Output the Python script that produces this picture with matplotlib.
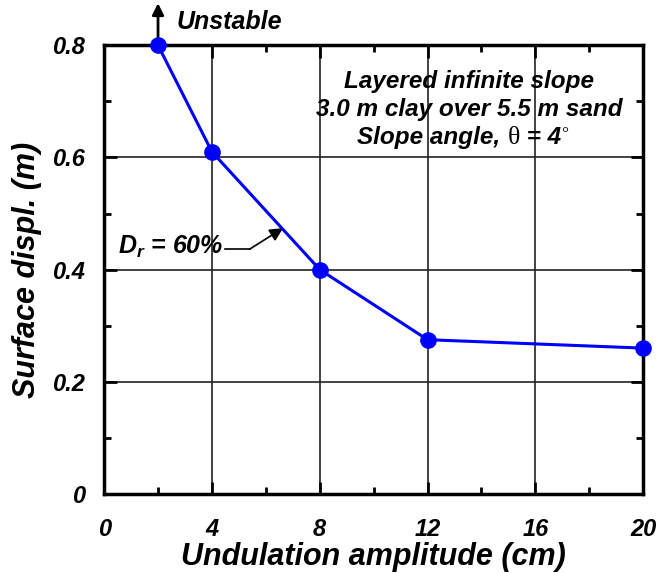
import numpy as np
import matplotlib.pyplot as plt
from matplotlib.ticker import MultipleLocator

plt.rcParams['font.family'] = ['Liberation Sans', 'DejaVu Sans']
plt.rcParams['font.weight'] = 'bold'
plt.rcParams['font.style'] = 'italic'
plt.rcParams['axes.labelweight'] = 'bold'
plt.rcParams['mathtext.fontset'] = 'custom'
plt.rcParams['mathtext.it'] = 'Liberation Sans:italic:bold'
plt.rcParams['mathtext.rm'] = 'Liberation Sans:italic:bold'
plt.rcParams['mathtext.bf'] = 'Liberation Sans:italic:bold'

# data
amplitude = [2, 4, 8, 12, 20]
displ = [0.80, 0.61, 0.40, 0.275, 0.26]
x_ticks = [0, 4, 8, 12, 16, 20]
y_ticks = [0, 0.2, 0.4, 0.6, 0.8]
y_labels = ['0', '0.2', '0.4', '0.6', '0.8']

fig = plt.figure(figsize=(6.59, 5.73), dpi=100)
ax = fig.add_axes([0.158, 0.138, 0.818, 0.783])

ax.plot(amplitude, displ, color='blue', lw=2.2, marker='o', ms=11,
        zorder=5, clip_on=False)

ax.set_xlim(0, 20)
ax.set_ylim(0, 0.8)
ax.set_xticks(x_ticks)
ax.set_xticklabels([str(t) for t in x_ticks])
ax.set_yticks(y_ticks)
ax.set_yticklabels(y_labels)
ax.xaxis.set_minor_locator(MultipleLocator(2))
ax.yaxis.set_minor_locator(MultipleLocator(0.1))
ax.tick_params(which='major', direction='in', length=9, width=2,
               top=True, right=True, labelsize=17)
ax.tick_params(axis='x', which='major', pad=17)
ax.tick_params(axis='y', which='major', pad=14)
ax.tick_params(which='minor', direction='in', length=5, width=2,
               top=True, right=True)
ax.grid(True, which='major', color='#222222', lw=1.2)
for s in ax.spines.values():
    s.set_linewidth(2.5)

ax.set_xlabel('Undulation amplitude (cm)', fontsize=22, labelpad=1)
ax.set_ylabel('Surface displ. (m)', fontsize=22, labelpad=7)

# unstable arrow
ax.annotate('', xy=(2, 0.875), xytext=(2, 0.8), annotation_clip=False,
            arrowprops=dict(arrowstyle='-|>', color='black', lw=2,
                            mutation_scale=17, shrinkA=0, shrinkB=0))
ax.text(2.7, 0.842, 'Unstable', fontsize=18, va='center', ha='left')

fs = 17.5
ax.text(13.55, 0.735, 'Layered infinite slope', fontsize=fs, ha='center', va='center')
ax.text(13.55, 0.686, '3.0 m clay over 5.5 m sand', fontsize=fs, ha='center', va='center')
t1 = ax.text(9.4, 0.635, 'Slope angle, ', fontsize=fs, ha='left', va='center')
t2 = ax.annotate('θ', xy=(1, 0), xycoords=t1, va='bottom', ha='left',
                 fontsize=fs + 1, family='Liberation Serif', style='normal',
                 weight='normal')
t3 = ax.annotate(' = 4', xy=(1, 0), xycoords=t2, va='bottom', ha='left',
                 fontsize=fs)
ax.annotate('°', xy=(1, 0.3), xycoords=t3, va='bottom', ha='left',
            fontsize=fs - 5, family='Liberation Serif', style='normal',
            weight='normal')

# Dr label
ax.text(4.42, 0.441, r'$D_r$ = 60%', fontsize=18, ha='right', va='center')
ax.plot([4.47, 5.42], [0.4365, 0.4365], color='black', lw=1.2)
ax.annotate('', xy=(6.64, 0.474), xytext=(5.4, 0.4365),
            arrowprops=dict(arrowstyle='-|>', color='black', lw=1.2,
                            mutation_scale=20, shrinkA=0, shrinkB=0))

fig.savefig('out.png', dpi=100)
